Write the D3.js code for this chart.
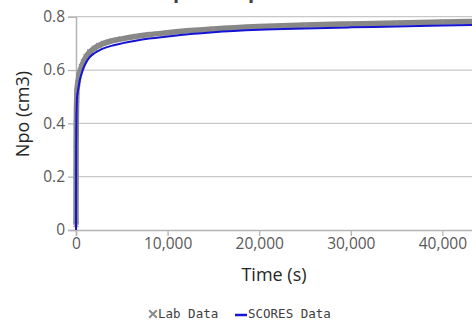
<!DOCTYPE html>
<html>
<head>
<meta charset="utf-8">
<script src="https://cdn.jsdelivr.net/npm/d3@7"></script>
<style>
  html, body { margin: 0; padding: 0; background: #fff; overflow: hidden; }
  svg { display: block; }
</style>
</head>
<body>
<svg id="chart" width="472" height="325"></svg>
<script>
const chartTitle = "Npo Comparison";
const xTickValues = [0, 10000, 20000, 30000, 40000];
const yTickValues = [0, 0.2, 0.4, 0.6, 0.8];

const labTime = [0, 10, 20, 35, 50, 75, 100, 150, 200, 300, 400, 600, 800, 1100, 1500, 2000, 2500, 3000, 4000, 5000, 6500, 8000, 10000, 12500, 15000, 20000, 25000, 30000, 35000, 40000, 45000, 50000];
const labNpo  = [0.02, 0.2, 0.32, 0.4, 0.45, 0.49, 0.52, 0.54, 0.55, 0.575, 0.59, 0.613, 0.63, 0.65, 0.668, 0.682, 0.692, 0.70, 0.71, 0.717, 0.726, 0.733, 0.740, 0.748, 0.754, 0.763, 0.769, 0.773, 0.776, 0.780, 0.783, 0.786];

const scoresTime = [0, 10, 20, 35, 50, 75, 100, 150, 200, 300, 400, 600, 800, 1100, 1500, 2000, 2500, 3000, 4000, 5000, 6500, 8000, 10000, 12500, 15000, 20000, 25000, 30000, 35000, 40000, 45000, 50000];
const scoresNpo  = [0, 0.18, 0.30, 0.37, 0.42, 0.46, 0.49, 0.51, 0.52, 0.54, 0.56, 0.585, 0.605, 0.628, 0.648, 0.663, 0.673, 0.681, 0.692, 0.700, 0.710, 0.718, 0.726, 0.735, 0.742, 0.751, 0.756, 0.760, 0.763, 0.767, 0.770, 0.772];

const svg = d3.select("#chart");
const x = d3.scaleLinear().domain([0, 50000]).range([76, 534]);
const y = d3.scaleLinear().domain([0, 0.8]).range([230, 16.7]);

const font = "'Open Sans', 'Noto Sans', sans-serif";

// title (mostly cropped off at the top edge, as in the reference)
svg.append("text").attr("x", 240).attr("y", -2).attr("text-anchor", "middle")
  .attr("font-family", font).attr("font-size", 20).attr("font-weight", "bold")
  .attr("fill", "#404040").text(chartTitle);

// gridlines
svg.append("g").selectAll("line").data(yTickValues.filter(d => d > 0)).join("line")
  .attr("x1", 76).attr("x2", 472)
  .attr("y1", d => y(d)).attr("y2", d => y(d))
  .attr("stroke", "#c8c8c8").attr("stroke-width", 1.3);

// x axis
const xAxis = svg.append("g").attr("transform", "translate(0,230)")
  .call(d3.axisBottom(x).tickValues(xTickValues).tickSize(6).tickPadding(2).tickFormat(d3.format(",")));
xAxis.select(".domain").attr("stroke", "#b4b4b4").attr("stroke-width", 1.5);
xAxis.selectAll(".tick line").attr("stroke", "#b4b4b4").attr("stroke-width", 1.3);
xAxis.selectAll("text").attr("font-family", font).attr("font-size", 15.5).attr("fill", "#595959");

// y axis
const yAxis = svg.append("g").attr("transform", "translate(76,0)")
  .call(d3.axisLeft(y).tickValues(yTickValues).tickSize(8).tickPadding(3).tickFormat(d => d === 0 ? "0" : d3.format(".1f")(d)));
yAxis.select(".domain").attr("stroke", "#b4b4b4").attr("stroke-width", 1.5);
yAxis.selectAll(".tick line").attr("stroke", "#b4b4b4").attr("stroke-width", 1.3);
yAxis.selectAll("text").attr("font-family", font).attr("font-size", 15.5).attr("fill", "#595959");

// axis titles
svg.append("text").attr("transform", "translate(29,114) rotate(-90)")
  .attr("text-anchor", "middle").attr("font-family", font).attr("font-size", 18)
  .attr("fill", "#262626").text("Npo (cm3)");
svg.append("text").attr("x", 274).attr("y", 281)
  .attr("text-anchor", "middle").attr("font-family", font).attr("font-size", 18)
  .attr("fill", "#262626").text("Time (s)");

// data
const plot = svg.append("g");
const labLine = d3.line().x((d, i) => x(labTime[i])).y(d => y(d)).curve(d3.curveMonotoneX);
plot.append("path").datum(labNpo).attr("d", labLine)
  .attr("fill", "none").attr("stroke", "#878787").attr("stroke-width", 5.5).attr("stroke-linejoin", "round");
const sym = d3.symbol().type(d3.symbolX).size(18);
plot.selectAll(".lab").data(labNpo).join("path")
  .attr("transform", (d, i) => `translate(${x(labTime[i])},${y(d)})`)
  .attr("d", sym).attr("fill", "none").attr("stroke", "#8c8c8c").attr("stroke-width", 1.2);

const scLine = d3.line().x((d, i) => x(scoresTime[i])).y(d => y(d)).curve(d3.curveMonotoneX);
plot.append("path").datum(scoresNpo).attr("d", scLine)
  .attr("fill", "none").attr("stroke", "#1414d2").attr("stroke-width", 2);

// legend
const lg = svg.append("g");
const legendFont = "'DejaVu Sans Mono', 'Liberation Mono', monospace";
lg.append("path").attr("transform", "translate(153,314)")
  .attr("d", d3.symbol().type(d3.symbolX).size(40)).attr("stroke", "#8c8c8c").attr("stroke-width", 2).attr("fill", "none");
lg.append("text").attr("x", 158).attr("y", 318).attr("font-family", legendFont)
  .attr("font-size", 12.5).attr("fill", "#404040").text("Lab Data");
lg.append("line").attr("x1", 235).attr("x2", 247).attr("y1", 315).attr("y2", 315)
  .attr("stroke", "#1414d2").attr("stroke-width", 2.5);
lg.append("text").attr("x", 248).attr("y", 318).attr("font-family", legendFont)
  .attr("font-size", 12.5).attr("fill", "#404040").text("SCORES Data");
</script>
</body>
</html>
